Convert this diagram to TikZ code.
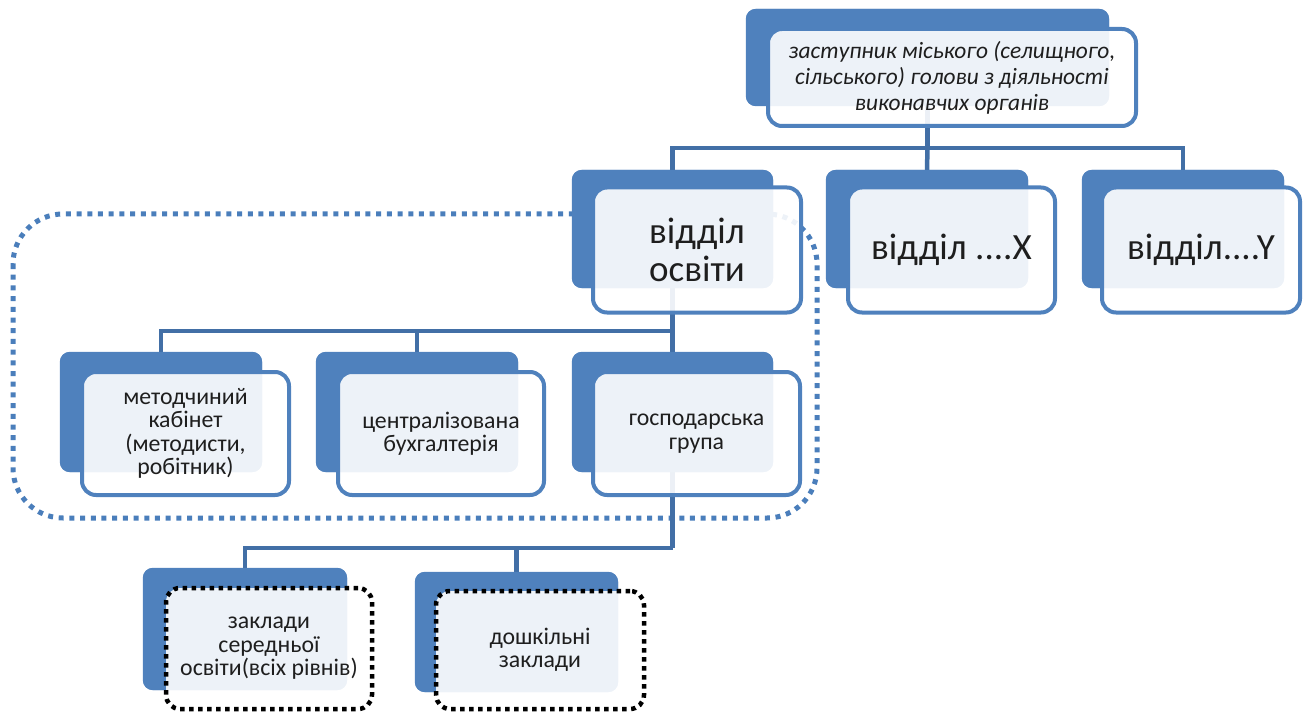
\documentclass[tikz,border=0pt]{standalone}
\usepackage{fontspec}
\setmainfont{Carlito}
\definecolor{boxblue}{RGB}{79,129,189}
\definecolor{linkblue}{RGB}{66,111,166}
\definecolor{groupblue}{RGB}{74,126,187}
\definecolor{inktext}{RGB}{30,30,30}
\begin{document}
\begin{tikzpicture}[x=1pt,y=-1pt,
  backbox/.style={fill=boxblue, draw=none, rounded corners=10pt, inner sep=0pt},
  frontbox/.style={fill=white, fill opacity=0.9, text opacity=1, draw=boxblue,
    line width=4pt, rounded corners=14pt, align=center, inner sep=0pt, text=inktext},
  dotbox/.style={frontbox, draw=black, line width=4.5pt, dash pattern=on 4.5pt off 4.5pt},
  conn/.style={draw=linkblue, line width=4.5pt},
  toptext/.style={font=\itshape\fontsize{23.4}{26}\selectfont},
  bigtext/.style={font=\fontsize{37}{38}\selectfont},
  smalltext/.style={font=\fontsize{23.8}{23.5}\selectfont}]
\useasboundingbox (0,0) rectangle (1304,714);

% dotted frame around the education department
\draw[groupblue, line width=5pt, dash pattern=on 5pt off 5.7pt, rounded corners=50pt]
  (13,214) rectangle (817,518);

% back plates
\node[backbox, minimum width=363, minimum height=97] (b0) at (927.5,57.5) {};
\node[backbox, minimum width=201, minimum height=118] (b1) at (672.5,229) {};
\node[backbox, minimum width=202, minimum height=118] (b2) at (927,229) {};
\node[backbox, minimum width=202, minimum height=118] (b3) at (1183,229) {};
\node[backbox, minimum width=202, minimum height=120] (b4) at (161,412) {};
\node[backbox, minimum width=202, minimum height=120] (b5) at (417,412) {};
\node[backbox, minimum width=201, minimum height=120] (b6) at (672.5,412) {};
\node[backbox, minimum width=204, minimum height=122] (b7) at (245,629) {};
\node[backbox, minimum width=203, minimum height=120] (b8) at (516.5,632) {};

% connectors
\coordinate (j0) at (927.5,148);
\coordinate (j1) at (672.5,331);
\coordinate (j2) at (672.5,548);
\draw[conn] (b0.south) -- (j0);
\draw[conn] (j0) -| (b1.north);
\draw[conn] (j0) -| (b3.north);
\draw[conn] (j0) -- (b2.north);
\draw[conn] (b1.south) -- (j1);
\draw[conn] (j1) -| (b4.north);
\draw[conn] (j1) -| (b5.north);
\draw[conn] (j1) -- (b6.north);
\draw[conn] (b6.south) -- (j2);
\draw[conn] (j2) -| (b7.north);
\draw[conn] (j2) -| (b8.north);

% back plates again, over the connectors
\foreach \n in {b0,b1,b2,b3,b4,b5,b6,b7,b8}
  \fill[boxblue, rounded corners=10pt] (\n.north west) rectangle (\n.south east);

% front cards
\node[frontbox, toptext, minimum width=368, minimum height=97] (f0) at (952,77.5)
  {заступник міського (селищного,\\сільського) голови з діяльності\\виконавчих органів};
\node[frontbox, bigtext, minimum width=208, minimum height=125] (f1) at (697,250)
  {відділ\\освіти};
\node[frontbox, bigtext, minimum width=207, minimum height=125] (f2) at (951.5,250)
  {відділ ....X};
\node[frontbox, bigtext, minimum width=198, minimum height=125] (f3) at (1201,250)
  {відділ....Y};
\node[frontbox, smalltext, minimum width=207, minimum height=123] (f4) at (185.5,433.5)
  {методчиний\\кабінет\\(методисти,\\робітник)};
\node[frontbox, smalltext, minimum width=206, minimum height=123] (f5) at (441,433.5)
  {централізована\\бухгалтерія};
\node[frontbox, smalltext, minimum width=207, minimum height=123] (f6) at (696.5,433.5)
  {господарська\\група};
\node[dotbox, smalltext, minimum width=206, minimum height=121] (f7) at (269,648.5)
  {заклади\\середньої\\освіти(всіх рівнів)};
\node[dotbox, smalltext, minimum width=208, minimum height=118] (f8) at (540,650)
  {дошкільні\\заклади};
\end{tikzpicture}
\end{document}
